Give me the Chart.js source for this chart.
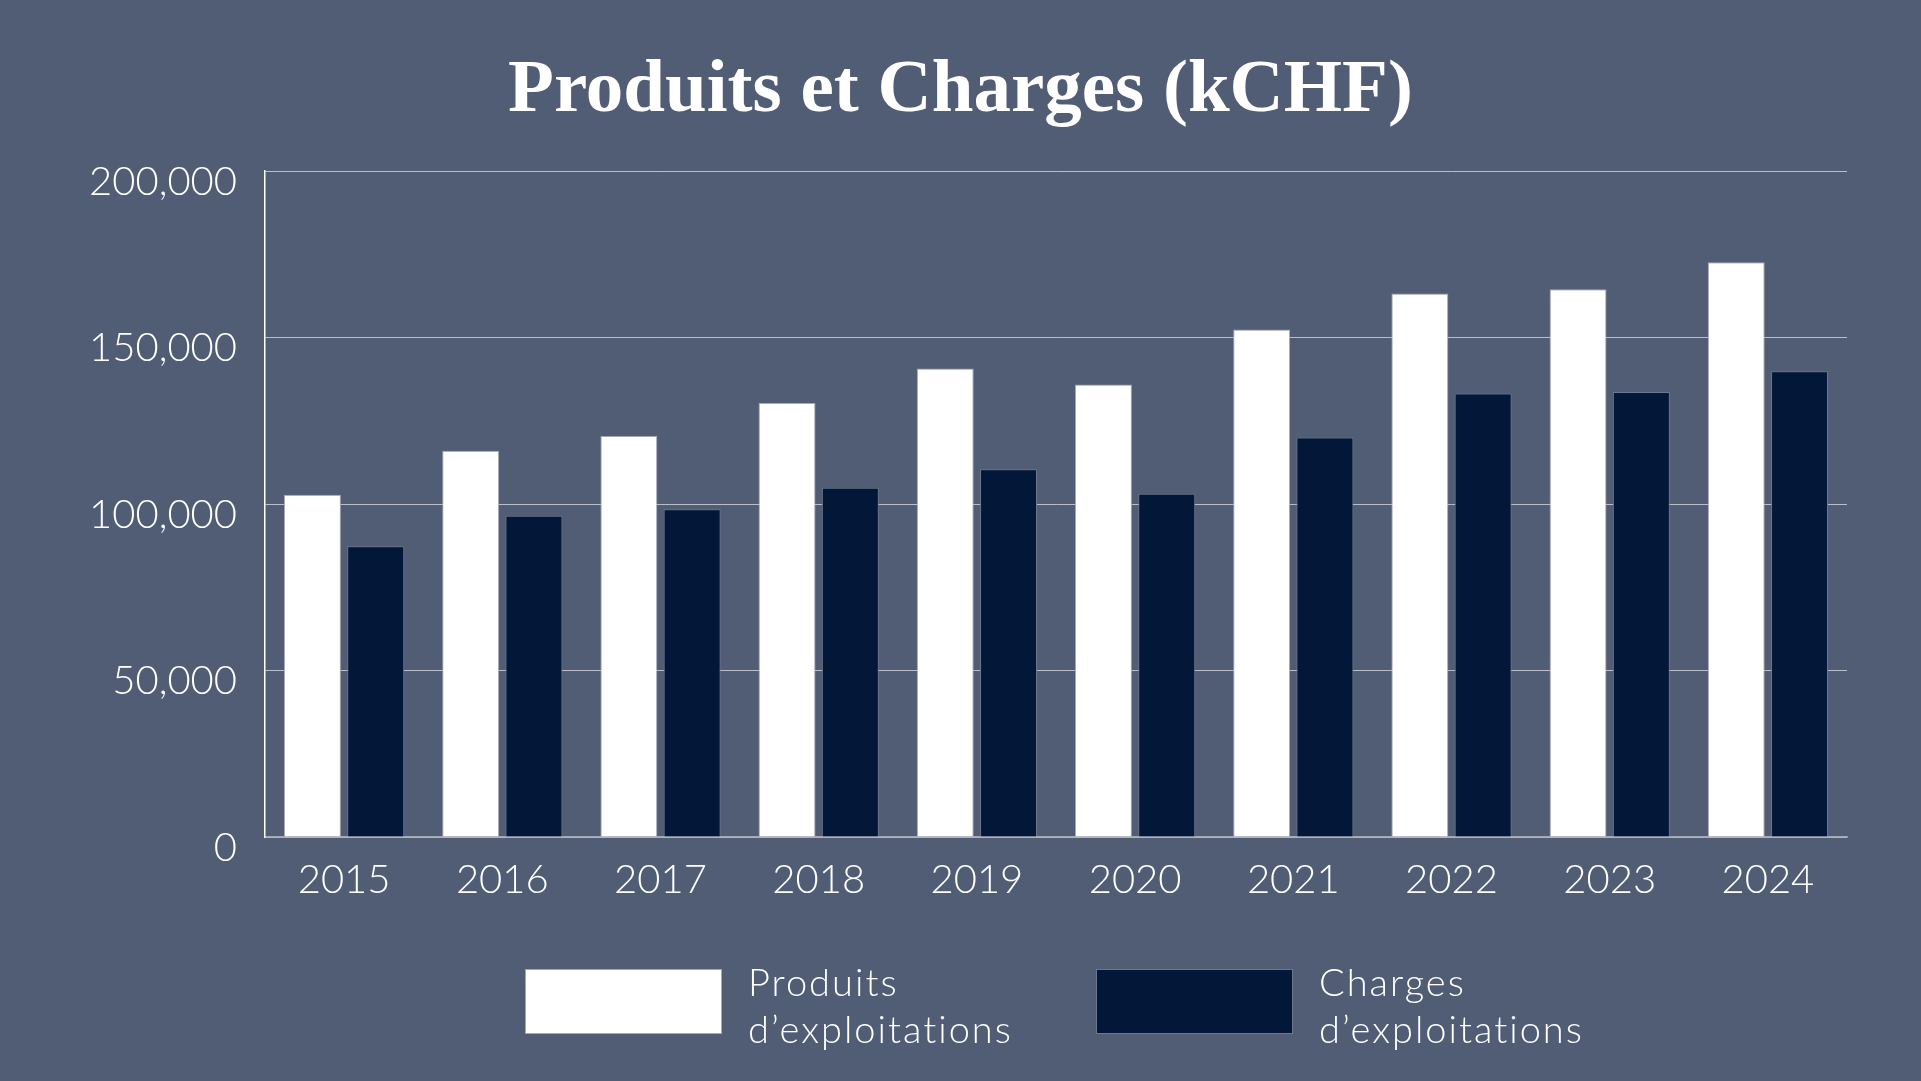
<!DOCTYPE html>
<html>
<head>
<meta charset="utf-8">
<script src="https://cdn.jsdelivr.net/npm/chart.js"></script>
<style>
  html, body { margin: 0; padding: 0; background: #505d75; overflow: hidden; }
  #wrap { width: 1921px; height: 1081px; position: relative; }
</style>
</head>
<body>
<div id="wrap"><canvas id="barChart"></canvas></div>
<script>
// Données (kCHF)
const years = ["2015", "2016", "2017", "2018", "2019", "2020", "2021", "2022", "2023", "2024"];
const produits = [102800, 116000, 120400, 130300, 140700, 135900, 152400, 163200, 164500, 172600];
const charges = [87300, 96500, 98400, 104900, 110400, 103100, 120000, 133200, 133600, 139900];
const yTicks = [0, 50000, 100000, 150000, 200000];
const seriesLabels = [["Produits", "d\u2019exploitations"], ["Charges", "d\u2019exploitations"]];
const chartTitle = "Produits et Charges (kCHF)";

const BG = "#505d75";
const NAVY = "#031838";
const SANS = "Lato, 'Open Sans', sans-serif";

// fond + titre centré sur toute la largeur
const bgPlugin = {
  id: "bg",
  beforeDraw(chart) {
    const ctx = chart.ctx;
    ctx.save();
    ctx.fillStyle = BG;
    ctx.fillRect(0, 0, chart.width, chart.height);
    ctx.restore();
  },
  afterDraw(chart) {
    const ctx = chart.ctx;
    ctx.save();
    ctx.font = "bold 75px 'Liberation Serif', serif";
    ctx.fillStyle = "#ffffff";
    ctx.textAlign = "center";
    ctx.textBaseline = "alphabetic";
    ctx.fillText(chartTitle, chart.width / 2, 111);
    ctx.restore();
  }
};

// légende sur deux lignes, dessinée à la main
const legendPlugin = {
  id: "twoLineLegend",
  afterDraw(chart) {
    const ctx = chart.ctx;
    const area = chart.chartArea;
    const mid = (area.left + area.right) / 2;
    const boxW = 197, boxH = 65, gap = 26;
    const offsets = [-531, 40];
    const top = 969;
    ctx.save();
    ctx.font = "300 38px " + SANS;
    ctx.letterSpacing = "2px";
    chart.data.datasets.forEach((ds, i) => {
      const x = mid + offsets[i];
      ctx.fillStyle = ds.backgroundColor;
      ctx.fillRect(x, top, boxW, boxH);
      ctx.strokeStyle = ds.borderColor;
      ctx.lineWidth = 1;
      ctx.strokeRect(x + 0.5, top + 0.5, boxW - 1, boxH - 1);
      ctx.fillStyle = "#ffffff";
      ctx.textBaseline = "alphabetic";
      ctx.textAlign = "left";
      seriesLabels[i].forEach((t, j) => {
        ctx.fillText(t, x + boxW + gap, 996 + j * 47);
      });
    });
    ctx.restore();
  }
};

const ctx = document.getElementById("barChart").getContext("2d");
new Chart(ctx, {
  type: "bar",
  data: {
    labels: years,
    datasets: [
      {
        label: "Produits d\u2019exploitations",
        data: produits,
        backgroundColor: "#ffffff",
        borderColor: "#a4a9b5",
        borderWidth: 1,
        categoryPercentage: 0.8,
        barPercentage: 0.9
      },
      {
        label: "Charges d\u2019exploitations",
        data: charges,
        backgroundColor: NAVY,
        borderColor: "#6e788b",
        borderWidth: 1,
        categoryPercentage: 0.8,
        barPercentage: 0.9
      }
    ]
  },
  options: {
    responsive: true,
    maintainAspectRatio: false,
    animation: false,
    devicePixelRatio: 1,
    layout: { padding: { left: 0, right: 74, top: 171, bottom: 177 } },
    plugins: {
      legend: { display: false },
      tooltip: { enabled: false },
      title: { display: false }
    },
    scales: {
      x: {
        grid: { display: false, drawTicks: false },
        border: { display: true, color: "#a3a7b3", width: 1.5 },
        ticks: {
          color: "#ffffff",
          font: { family: SANS, size: 40, weight: "300" },
          padding: 19,
          maxRotation: 0
        },
        afterFit(scale) { scale.height = 67; }
      },
      y: {
        min: yTicks[0],
        max: yTicks[yTicks.length - 1],
        afterBuildTicks(scale) { scale.ticks = yTicks.map(v => ({ value: v })); },
        grid: { color: "rgba(255,255,255,0.6)", lineWidth: 1, drawTicks: false },
        border: { display: true, color: "#ffffff", width: 1.5 },
        ticks: {
          color: "#ffffff",
          font: { family: SANS, size: 40, weight: "300" },
          padding: 28,
          labelOffset: 11,
          callback: v => v.toLocaleString("en-US")
        },
        afterFit(scale) { scale.width = 265; }
      }
    }
  },
  plugins: [bgPlugin, legendPlugin]
});
</script>
</body>
</html>
